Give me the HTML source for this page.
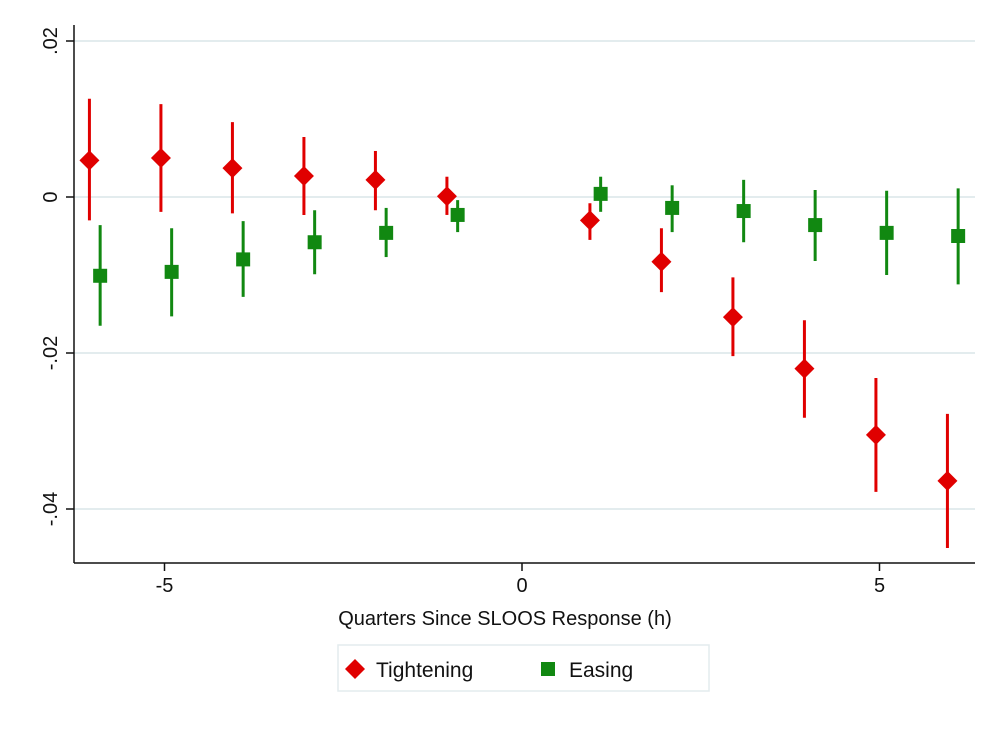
<!DOCTYPE html>
<html><head><meta charset="utf-8"><style>
body{margin:0;background:#fff;}
svg text{font-family:"Liberation Sans",sans-serif;fill:#111;}
</style></head><body>
<svg id="c" width="1000" height="727"></svg>
<script>
const hs=[-6,-5,-4,-3,-2,-1,1,2,3,4,5,6];
const tightB=[.0047,.005,.0037,.0027,.0022,.0001,-.003,-.0083,-.0154,-.022,-.0305,-.0364];
const tightHi=[.0126,.0119,.0096,.0077,.0059,.0026,-.0008,-.004,-.0103,-.0158,-.0232,-.0278];
const tightLo=[-.003,-.0019,-.0021,-.0023,-.0017,-.0023,-.0055,-.0122,-.0204,-.0283,-.0378,-.045];
const easeB=[-.0101,-.0096,-.008,-.0058,-.0046,-.0023,.0004,-.0014,-.0018,-.0036,-.0046,-.005];
const easeHi=[-.0036,-.004,-.0031,-.0017,-.0014,-.0004,.0026,.0015,.0022,.0009,.0008,.0011];
const easeLo=[-.0165,-.0153,-.0128,-.0099,-.0077,-.0045,-.0019,-.0045,-.0058,-.0082,-.01,-.0112];
const yTicks=[.02,0,-.02,-.04];
const yTickLabels=[".02","0","-.02","-.04"];
const xTicks=[-5,0,5];
const X=v=>522+v*71.5;
const Y=v=>197-v/0.02*156;
const s=document.getElementById('c');
const NS='http://www.w3.org/2000/svg';
function mk(t,a,p){const e=document.createElementNS(NS,t);for(const k in a)e.setAttribute(k,a[k]);(p||s).appendChild(e);return e;}
yTicks.forEach((v,i)=>{
 const g=mk('line',{x1:74,x2:975,y1:Y(v),y2:Y(v),stroke:'#e3ecee','stroke-width':2});
 
 
 const tk=mk('line',{x1:66,x2:74,y1:Y(v),y2:Y(v),stroke:'#111','stroke-width':1.5});
 
 
 const t=mk('text',{x:0,y:0,'font-size':20,'text-anchor':'middle',transform:`translate(57,${Y(v)}) rotate(-90)`});
 t.textContent=yTickLabels[i];
 
 
});
xTicks.forEach(v=>{
 const tk=mk('line',{x1:X(v),x2:X(v),y1:563,y2:571,stroke:'#111','stroke-width':1.5});
 
 
 const t=mk('text',{x:X(v),y:592,'font-size':20,'text-anchor':'middle'});
 t.textContent=v;
 
 
});
const ya=mk('line',{x1:74,x2:74,y1:25,y2:563,stroke:'#111','stroke-width':1.5});


const xa=mk('line',{x1:74,x2:975,y1:563,y2:563,stroke:'#111','stroke-width':1.5});


const xt=mk('text',{x:505,y:625,'font-size':20,'text-anchor':'middle'});
xt.textContent='Quarters Since SLOOS Response (h)';


function diamond(cx,cy,r,p){return mk('polygon',{points:`${cx},${cy-r} ${cx+r},${cy} ${cx},${cy+r} ${cx-r},${cy}`,fill:'#e00000'},p);}
function square(cx,cy,r,p){return mk('rect',{x:cx-r,y:cy-r,width:2*r,height:2*r,fill:'#118811'},p);}
hs.forEach((h,i)=>{
 const xe=X(h+0.1);
 const l=mk('line',{x1:xe,x2:xe,y1:Y(easeHi[i]),y2:Y(easeLo[i]),stroke:'#118811','stroke-width':3});
 
 
 const m=square(xe,Y(easeB[i]),7);
 
 
 const xtg=X(h-0.05);
 const l2=mk('line',{x1:xtg,x2:xtg,y1:Y(tightHi[i]),y2:Y(tightLo[i]),stroke:'#e00000','stroke-width':3});
 
 
 const m2=diamond(xtg,Y(tightB[i]),10);
 
 
});
const lg=mk('g',{});


mk('rect',{x:338,y:645,width:371,height:46,fill:'#fff',stroke:'#e3ecee','stroke-width':1.5},lg);
const d=diamond(355,669,10,lg);


const t1=mk('text',{x:376,y:677,'font-size':21},lg);t1.textContent='Tightening';


const q=square(548,669,7,lg);


const t2=mk('text',{x:569,y:677,'font-size':21},lg);t2.textContent='Easing';


</script>
</body></html>
